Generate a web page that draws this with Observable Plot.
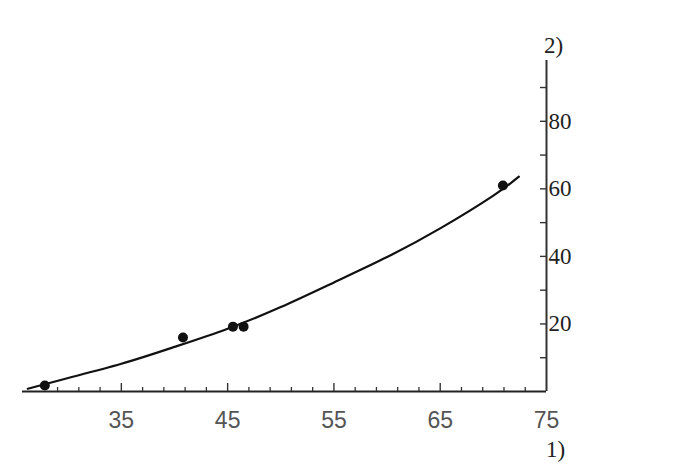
<!DOCTYPE html>
<html>
<head>
<meta charset="utf-8">
<script src="https://cdn.jsdelivr.net/npm/d3@7"></script>
<script src="https://cdn.jsdelivr.net/npm/@observablehq/plot@0.6"></script>
<style>
  html, body { margin: 0; padding: 0; background: #fff; }
  #chart svg { display: block; }
</style>
</head>
<body>
<div id="chart"></div>
<script>
// Measured points
const pointX = [27.8, 40.8, 45.5, 46.5, 70.9];
const pointY = [1.8, 16.0, 19.2, 19.2, 61.0];

// Fitted curve
const curveX = [26.2, 30, 35, 40, 45, 50, 55, 60, 65, 70, 72.4];
const curveY = [0.8, 4.0, 8.2, 13.2, 18.6, 25.0, 32.3, 39.8, 48.3, 58.0, 63.6];

// Axis ticks and labels
const xMajorTicks = [35, 45, 55, 65];
const xMinorTicks = [29, 31, 33, 37, 39, 41, 43, 47, 49, 51, 53, 57, 59, 61, 63, 67, 69, 71, 73];
const xTickLabels = [35, 45, 55, 65, 75];
const yTicks = [10, 20, 30, 40, 50, 60, 70, 80, 90];
const yTickLabels = [20, 40, 60, 80];
const xAxisTitle = "1)";
const yAxisTitle = "2)";

const xDomain = [25.7, 75];
const yDomain = [0, 98];

const points = pointX.map((x, i) => ({x, y: pointY[i]}));
const curve = curveX.map((x, i) => ({x, y: curveY[i]}));

const W = 677, H = 465;
const mL = 22, mR = 131, mT = 60, mB = 74;
const pxPerX = (W - mL - mR) / (xDomain[1] - xDomain[0]);
const pxPerY = (H - mT - mB) / (yDomain[1] - yDomain[0]);

const serif = "'Liberation Serif', 'DejaVu Serif', serif";
const sans = "'Liberation Sans', Arial, sans-serif";

const chart = Plot.plot({
  width: W,
  height: H,
  marginLeft: mL,
  marginRight: mR,
  marginTop: mT,
  marginBottom: mB,
  x: {domain: xDomain, axis: null},
  y: {domain: yDomain, axis: null},
  marks: [
    // axis lines
    Plot.ruleY([0], {x1: xDomain[0], x2: xDomain[1], stroke: "#222", strokeWidth: 2.2}),
    Plot.ruleX([75], {y1: 0, y2: yDomain[1], stroke: "#333", strokeWidth: 2}),
    // x ticks (pointing inward/up)
    Plot.ruleX(xMinorTicks, {x: d => d, y1: 0, y2: 4 / pxPerY, stroke: "#333", strokeWidth: 1.3}),
    Plot.ruleX(xMajorTicks, {x: d => d, y1: 0, y2: 8 / pxPerY, stroke: "#333", strokeWidth: 1.4}),
    // y ticks (pointing inward/left)
    Plot.ruleY(yTicks, {y: d => d, x1: 75 - 6 / pxPerX, x2: 75, stroke: "#333", strokeWidth: 1.4}),
    // x labels
    Plot.text(xTickLabels, {x: d => d, y: 0, dy: 29, text: d => String(d), fontSize: 23, fontFamily: sans, fill: "#555"}),
    // y labels
    Plot.text(yTickLabels, {x: 75, y: d => d, dx: 2, textAnchor: "start", text: d => String(d), fontSize: 23, fontFamily: serif, fill: "#222"}),
    // axis titles
    Plot.text([xAxisTitle], {x: 75, y: 0, dx: 9, dy: 58, text: d => d, fontSize: 23, fontFamily: serif, fill: "#222"}),
    Plot.text([yAxisTitle], {x: 75, y: yDomain[1], dx: 7, dy: -15, text: d => d, fontSize: 23, fontFamily: serif, fill: "#222"}),
    // curve
    Plot.line(curve, {x: "x", y: "y", curve: "natural", stroke: "#111", strokeWidth: 2.2}),
    // points
    Plot.dot(points, {x: "x", y: "y", r: 5, fill: "#111", stroke: "none"})
  ]
});
document.getElementById("chart").append(chart);
</script>
</body>
</html>
